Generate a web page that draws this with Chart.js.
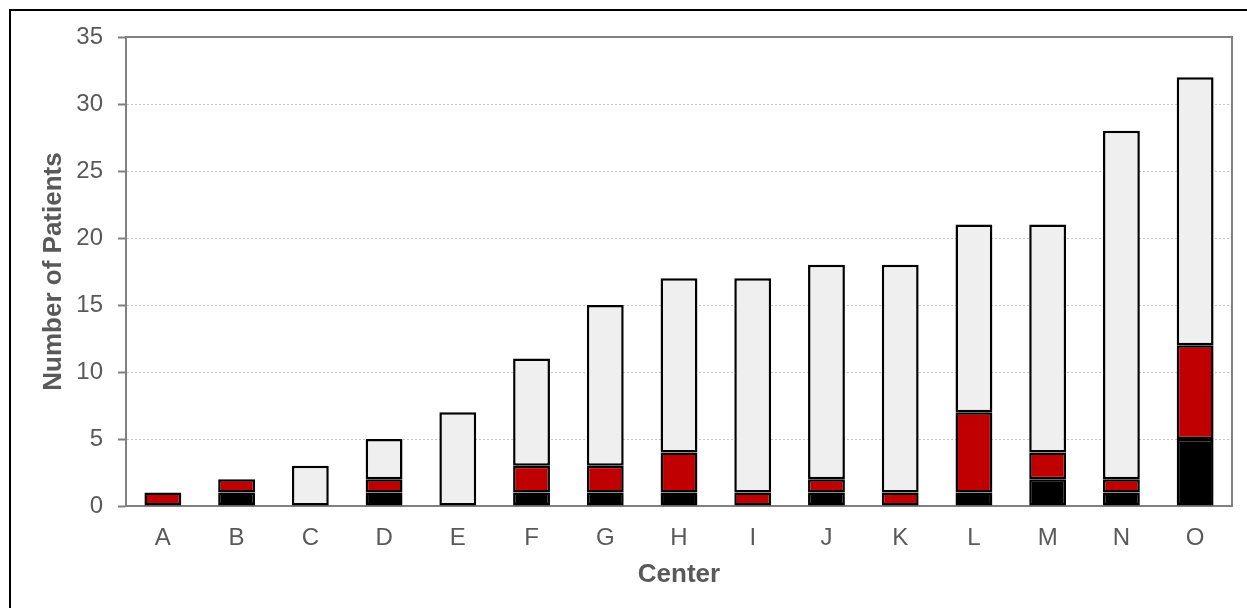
<!DOCTYPE html>
<html>
<head>
<meta charset="utf-8">
<script src="https://cdn.jsdelivr.net/npm/chart.js@4"></script>
<style>
  body { margin: 0; background: #fff; }
  #frame { position: absolute; left: 9px; top: 9px; width: 1300px; height: 700px; border: 2px solid #000; }
  #wrap { position: absolute; left: 0; top: 0; width: 1247px; height: 608px; }
</style>
</head>
<body>
<div id="frame"></div>
<div id="wrap"><canvas id="chart"></canvas></div>
<script>
// centers and patient counts per group (bottom to top)
const centers = ["A", "B", "C", "D", "E", "F", "G", "H", "I", "J", "K", "L", "M", "N", "O"];
const blackSeries = [0, 1, 0, 1, 0, 1, 1, 1, 0, 1, 0, 1, 2, 1, 5];
const redSeries   = [1, 1, 0, 1, 0, 2, 2, 3, 1, 1, 1, 6, 2, 1, 7];
const graySeries  = [0, 0, 3, 3, 7, 8, 12, 13, 16, 16, 17, 14, 17, 26, 20];
const yTicks = [0, 5, 10, 15, 20, 25, 30, 35];

const textColor = "#595959";
const axisColor = "#808080";

// draws the top and right edge of the plot box
const frameBox = {
    id: "frameBox",
    afterDraw(chart) {
        const { ctx, chartArea } = chart;
        ctx.save();
        ctx.strokeStyle = axisColor;
        ctx.lineWidth = 2;
        ctx.beginPath();
        ctx.moveTo(chartArea.left, chartArea.top);
        ctx.lineTo(chartArea.right, chartArea.top);
        ctx.lineTo(chartArea.right, chartArea.bottom);
        ctx.stroke();
        ctx.restore();
    }
};

function makeSet(label, data, color) {
    return {
        label,
        data: data.map(v => v === 0 ? null : v),
        backgroundColor: color,
        borderColor: "#000",
        borderWidth: 2.5,
        borderSkipped: false,
        barPercentage: 0.5,
        categoryPercentage: 1
    };
}

new Chart(document.getElementById("chart"), {
    type: "bar",
    data: {
        labels: centers,
        datasets: [
            makeSet("Black", blackSeries, "#000000"),
            makeSet("Red", redSeries, "#c00000"),
            makeSet("Gray", graySeries, "#efefef")
        ]
    },
    options: {
        responsive: true,
        maintainAspectRatio: false,
        animation: false,
        layout: { padding: { left: 0, top: 37, right: 15, bottom: 0 } },
        plugins: { legend: { display: false }, tooltip: { enabled: false } },
        scales: {
            x: {
                stacked: true,
                afterFit(scale) { scale.height = 102; },
                grid: { display: false },
                border: { display: true, color: axisColor, width: 2 },
                ticks: { color: textColor, font: { family: "Liberation Sans", size: 24 }, padding: 10 },
                title: {
                    display: true, text: "Center", color: textColor,
                    font: { family: "Liberation Sans", size: 26, weight: "bold" },
                    padding: { top: 0, bottom: 18 }
                }
            },
            y: {
                stacked: true,
                min: 0,
                max: 35,
                afterFit(scale) { scale.width = 126; },
                afterBuildTicks(scale) { scale.ticks = yTicks.map(v => ({ value: v })); },
                grid: {
                    color: ctx => (ctx.tick && (ctx.tick.value === 0 || ctx.tick.value === 35)) ? "rgba(0,0,0,0)" : "#c4c4c4",
                    tickColor: axisColor,
                    tickLength: 8,
                    tickWidth: 2
                },
                border: { display: true, color: axisColor, width: 2, dash: [2, 2] },
                ticks: { color: textColor, font: { family: "Liberation Sans", size: 24 }, padding: 15 },
                title: {
                    display: true, text: "Number of Patients", color: textColor,
                    font: { family: "Liberation Sans", size: 26, weight: "bold" },
                    padding: { top: 38, bottom: 0 }
                }
            }
        }
    },
    plugins: [frameBox]
});
</script>
</body>
</html>
